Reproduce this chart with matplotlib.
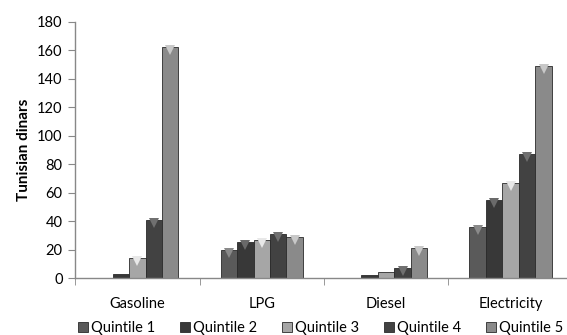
import numpy as np
import matplotlib
matplotlib.use("Agg")
import matplotlib.pyplot as plt
import matplotlib.transforms as mtransforms

categories = ["Gasoline", "LPG", "Diesel", "Electricity"]
quintiles = ["Quintile 1", "Quintile 2", "Quintile 3", "Quintile 4", "Quintile 5"]
q1 = [0, 20, 0, 36]
q2 = [3, 25, 2, 55]
q3 = [14, 27, 4, 67]
q4 = [41, 31, 7, 87]
q5 = [162, 29, 21, 149]
values = [q1, q2, q3, q4, q5]

colors = ["#5a5a5a", "#383838", "#a6a6a6", "#424242", "#8a8a8a"]
tips = ["#8a8a8a", "#6a6a6a", "#e8e8e8", "#707070", "#c8c8c8"]

plt.rcParams["font.family"] = ["Lato", "DejaVu Sans"]

fig = plt.figure(figsize=(5.67, 3.35), dpi=100)
ax = fig.add_axes([0.1323, 0.1701, 0.8677, 0.7651])

x = np.arange(len(categories))
w = 0.1325
tip_tr = mtransforms.offset_copy(ax.transData, fig=fig, y=-3, units="dots")
for i, vals in enumerate(values):
    xs = x + (i - 2) * w
    ax.bar(xs, vals, width=w, color=colors[i], edgecolor="#2a2a2a",
           linewidth=0.6, label=quintiles[i], zorder=2)
    for xx, v in zip(xs, vals):
        if v > 5:
            ax.plot(xx, v, marker="v", markersize=7,
                    color=tips[i], markeredgewidth=0, transform=tip_tr, zorder=3)

ax.set_xlim(-0.5, 3.452)
ax.set_ylim(0, 180)
ax.set_yticks(range(0, 181, 20))
ax.set_xticks(x)
ax.set_xticklabels(categories)
ax.set_xticks([-0.5, 0.5, 1.5, 2.5], minor=True)
ax.tick_params(axis="x", which="major", length=0, pad=14, labelsize=10.5)
ax.tick_params(axis="x", which="minor", length=5, color="#888888")
ax.tick_params(axis="y", length=5, color="#888888", labelsize=10.5, pad=4)

for s in ["top", "right"]:
    ax.spines[s].set_visible(False)
for s in ["left", "bottom"]:
    ax.spines[s].set_color("#888888")
    ax.spines[s].set_linewidth(1.0)

ax.set_ylabel("Tunisian dinars", fontsize=11, fontweight="bold", labelpad=4)

ax.legend(loc="center", bbox_to_anchor=(0.566, 0.021), bbox_transform=fig.transFigure,
          ncol=5, frameon=False, fontsize=10.5, handlelength=0.65, handleheight=0.65,
          handletextpad=0.25, columnspacing=1.7)

fig.savefig("out.png", dpi=100)
